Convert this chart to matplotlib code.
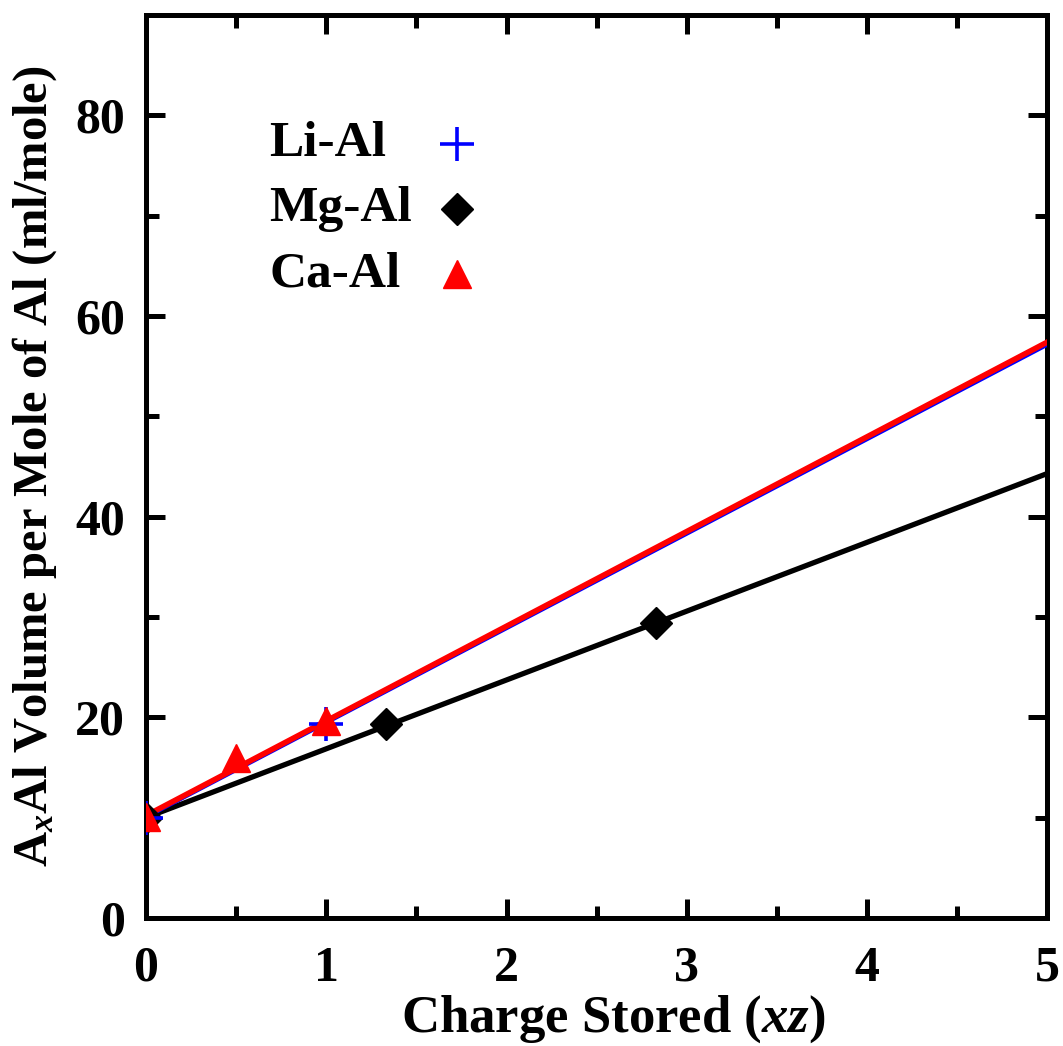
import numpy as np
import matplotlib
matplotlib.use("Agg")
import matplotlib.pyplot as plt

plt.rcParams["font.family"] = ["Liberation Serif", "DejaVu Serif"]
plt.rcParams["font.weight"] = "bold"
plt.rcParams["mathtext.fontset"] = "custom"
plt.rcParams["mathtext.rm"] = "Liberation Serif:bold"
plt.rcParams["mathtext.it"] = "Liberation Serif:italic:bold"
plt.rcParams["mathtext.bf"] = "Liberation Serif:bold"

# data
li_x = [0.0, 1.0]
li_y = [10.0, 19.3]
mg_x = [0.0, 1.33, 2.83]
mg_y = [10.0, 19.3, 29.4]
ca_x = [0.0, 0.5, 1.0]
ca_y = [10.1, 15.9, 19.6]

# fitted lines (intercept, slope)
li_fit = (10.0, 9.42)
mg_fit = (10.0, 6.86)
ca_fit = (10.2, 9.44)

labels = ["Li-Al", "Mg-Al", "Ca-Al"]

x_fit = np.array([0.0, 5.0])

fig = plt.figure(figsize=(10.63, 10.46), dpi=100)
ax = fig.add_axes([0.1373, 0.1224, 0.848, 0.8633])

ax.plot(x_fit, mg_fit[0] + mg_fit[1] * x_fit, color="black", lw=3.8, zorder=2)
ax.plot(x_fit, li_fit[0] + li_fit[1] * x_fit, color="blue", lw=2.4, zorder=3)
ax.plot(x_fit, ca_fit[0] + ca_fit[1] * x_fit, color="red", lw=4.0, zorder=4)

styles = [
    dict(marker="+", ms=24, mew=2.6, color="blue"),
    dict(marker="D", ms=16, color="black"),
    dict(marker="^", ms=20, color="red"),
]

ax.plot(mg_x, mg_y, ls="none", zorder=5, **styles[1])
ax.plot(li_x, li_y, ls="none", zorder=5, **styles[0])
ax.plot(ca_x, ca_y, ls="none", zorder=6, **styles[2])

# legend: text on the left, marker to the right
for i, (lab, st) in enumerate(zip(labels, styles)):
    yy = 0.857 - i * 0.072
    ax.text(0.137, yy, lab, transform=ax.transAxes, fontsize=37,
            fontweight="bold", va="center", ha="left")
    ax.plot([0.345], [yy], transform=ax.transAxes, ls="none",
            clip_on=False, **st)

ax.set_xlim(0, 5)
ax.set_ylim(0, 90)
ax.set_xticks(np.arange(0, 6, 1))
ax.set_xticks(np.arange(0, 5.01, 0.5), minor=True)
ax.set_yticks(np.arange(0, 81, 20))
ax.set_yticks(np.arange(0, 90, 10), minor=True)

for sp in ax.spines.values():
    sp.set_linewidth(3.6)

ax.tick_params(which="both", direction="in", top=True, right=True,
               width=3.6, labelsize=36)
ax.tick_params(axis="x", which="major", pad=20)
ax.tick_params(axis="y", which="major", pad=15)
ax.tick_params(which="major", length=14)
ax.tick_params(which="minor", length=9)
for lab in ax.get_xticklabels() + ax.get_yticklabels():
    lab.set_fontweight("bold")

ax.set_xlabel("Charge Stored ($xz$)", fontsize=38, fontweight="bold", labelpad=0)
ax.xaxis.set_label_coords(0.518, -0.083)
ax.set_ylabel("A$_x$Al Volume per Mole of Al (ml/mole)", fontsize=35,
              fontweight="bold", labelpad=12)

fig.savefig("out.png", dpi=100)
